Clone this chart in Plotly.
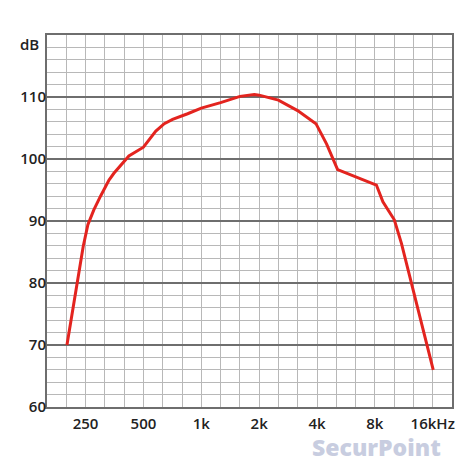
import math
import plotly.graph_objects as go

# frequency response
freq_hz = [200, 228, 243, 257, 276, 299, 331, 351, 420, 500, 580, 642, 709, 849,
           1000, 1260, 1590, 1888, 2000, 2520, 3170, 3950, 4490, 5120, 6350,
           8150, 8810, 10100, 11000, 12400, 14000, 16100]
level_db = [70.0, 80.5, 85.9, 89.4, 91.8, 94.0, 96.6, 97.7, 100.5, 101.9, 104.5,
            105.7, 106.4, 107.3, 108.2, 109.1, 110.1, 110.4, 110.3, 109.5, 107.8,
            105.7, 102.4, 98.3, 97.1, 95.8, 93.1, 90.2, 86.4, 80.0, 73.5, 66.0]

x_label_vals = [250, 500, 1000, 2000, 4000, 8000, 16000]
x_label_text = ["250", "500", "1k", "2k", "4k", "8k", "16kHz"]
y_major = [60, 70, 80, 90, 100, 110]

# third-octave grid from 160 Hz to 20 kHz
third = math.log10(2) / 3
x_range = [math.log10(250) - 2 * third, math.log10(250) + 19 * third]

frame = "#6e6e6e"
light = "#b8b8b8"
tick_font = dict(family="Open Sans, Noto Sans, sans-serif", size=15,
                 color="#222222", weight=600)

fig = go.Figure()
fig.add_trace(go.Scatter(x=freq_hz, y=level_db, mode="lines",
                         line=dict(color="#e3241f", width=3), hoverinfo="skip"))
# empty trace so the label axes exist
fig.add_trace(go.Scatter(x=[None], y=[None], xaxis="x2", yaxis="y2",
                         hoverinfo="skip"))

fig.update_layout(
    width=458, height=458,
    margin=dict(l=39, r=14, t=27, b=59, autoexpand=False),
    paper_bgcolor="white", plot_bgcolor="white",
    showlegend=False,
    xaxis=dict(type="log", range=x_range, tick0=math.log10(250), dtick=third,
               showticklabels=False, ticks="", showgrid=True, gridcolor=light,
               gridwidth=1, zeroline=False, automargin=False,
               showline=True, linecolor=frame, linewidth=2, mirror=True),
    yaxis=dict(range=[60, 120], tick0=60, dtick=2, showticklabels=False,
               ticks="", showgrid=True, gridcolor=light, gridwidth=1,
               zeroline=False, automargin=False,
               showline=True, linecolor=frame, linewidth=2, mirror=True),
    xaxis2=dict(type="log", range=x_range, overlaying="x", side="bottom",
                tickmode="array", tickvals=x_label_vals, ticktext=x_label_text,
                showgrid=False, ticks="", zeroline=False, automargin=False,
                tickfont=tick_font, ticklabelstandoff=6),
    yaxis2=dict(range=[60, 120], overlaying="y", side="left",
                tickmode="array", tickvals=y_major,
                ticktext=[str(v) for v in y_major],
                showgrid=True, gridcolor=frame, gridwidth=2, ticks="",
                zeroline=False, automargin=False, tickfont=tick_font),
)

fig.add_annotation(text="dB", xref="paper", yref="paper", x=0, y=1,
                   xanchor="right", yanchor="top", xshift=-6, yshift=3,
                   showarrow=False, font=tick_font)
fig.add_annotation(text="SecurPoint", xref="paper", yref="paper", x=1, y=0,
                   xanchor="right", yanchor="top", xshift=-10, yshift=-23,
                   borderpad=0, showarrow=False,
                   font=dict(family="Open Sans, sans-serif", size=23,
                             color="#c8cde0", weight=800))

fig.write_html("out.html")
